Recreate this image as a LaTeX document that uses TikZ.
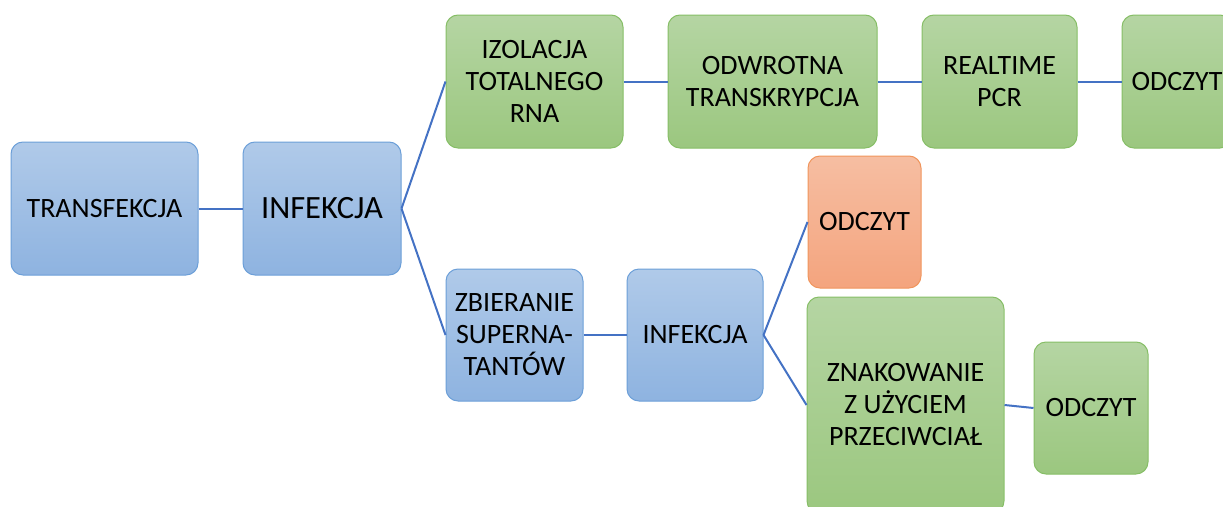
\documentclass[tikz,border=0pt]{standalone}
\usepackage{fontspec}
\setmainfont{Carlito}
\definecolor{blueTop}{HTML}{B0CAE9}
\definecolor{blueBot}{HTML}{8EB3E0}
\definecolor{blueBrd}{HTML}{6C9FD8}
\definecolor{greenTop}{HTML}{B5D5A3}
\definecolor{greenBot}{HTML}{9BC77F}
\definecolor{greenBrd}{HTML}{86BE66}
\definecolor{orangeTop}{HTML}{F6BEA2}
\definecolor{orangeBot}{HTML}{F4A47E}
\definecolor{orangeBrd}{HTML}{F0955C}
\definecolor{linkCol}{HTML}{4472C4}
\begin{document}
\begin{tikzpicture}[x=1pt,y=-1pt,
  box/.style={rectangle, rounded corners=12pt, line width=1pt, inner sep=0pt,
    align=center, font=\fontsize{28}{32}\selectfont},
  bluebox/.style={box, draw=blueBrd, top color=blueTop, bottom color=blueBot},
  greenbox/.style={box, draw=greenBrd, top color=greenTop, bottom color=greenBot},
  orangebox/.style={box, draw=orangeBrd, top color=orangeTop, bottom color=orangeBot},
  link/.style={draw=linkCol, line width=2pt}]
\useasboundingbox (0,0) rectangle (1223,506);
\clip (0,0) rectangle (1223,506);
\node[bluebox, minimum width=187pt, minimum height=133pt] (trans) at (104.5,208.5) {TRANSFEKCJA};
\node[bluebox, minimum width=158pt, minimum height=133pt, font=\fontsize{32.5}{36}\selectfont] (inf1) at (322,208.5) {INFEKCJA};
\node[greenbox, minimum width=177pt, minimum height=133pt] (izo) at (534.5,81.5) {IZOLACJA\\TOTALNEGO\\RNA};
\node[greenbox, minimum width=209pt, minimum height=133pt] (odw) at (772.5,81.5) {ODWROTNA\\TRANSKRYPCJA};
\node[greenbox, minimum width=155pt, minimum height=133pt] (real) at (999.5,81.5) {REALTIME\\PCR};
\node[greenbox, minimum width=110pt, minimum height=133pt] (odc1) at (1177,81.5) {ODCZYT};
\node[bluebox, minimum width=137pt, minimum height=132pt] (zbi) at (514.5,335) {ZBIERANIE\\SUPERNA-\\TANTÓW};
\node[bluebox, minimum width=136pt, minimum height=132pt] (inf2) at (695,335) {INFEKCJA};
\node[orangebox, minimum width=113pt, minimum height=132pt] (odcO) at (864.5,222) {ODCZYT};
\node[greenbox, minimum width=197pt, minimum height=216pt] (zna) at (905.5,405) {ZNAKOWANIE\\Z UŻYCIEM\\PRZECIWCIAŁ};
\node[greenbox, minimum width=114pt, minimum height=132pt] (odcG) at (1091,408) {ODCZYT};
\draw[link] (trans.east) -- (inf1.west);
\draw[link] (inf1.east) -- (izo.west);
\draw[link] (inf1.east) -- (zbi.west);
\draw[link] (izo.east) -- (odw.west);
\draw[link] (odw.east) -- (real.west);
\draw[link] (real.east) -- (odc1.west);
\draw[link] (zbi.east) -- (inf2.west);
\draw[link] (inf2.east) -- (odcO.west);
\draw[link] (inf2.east) -- (zna.west);
\draw[link] (zna.east) -- (odcG.west);
\end{tikzpicture}
\end{document}
